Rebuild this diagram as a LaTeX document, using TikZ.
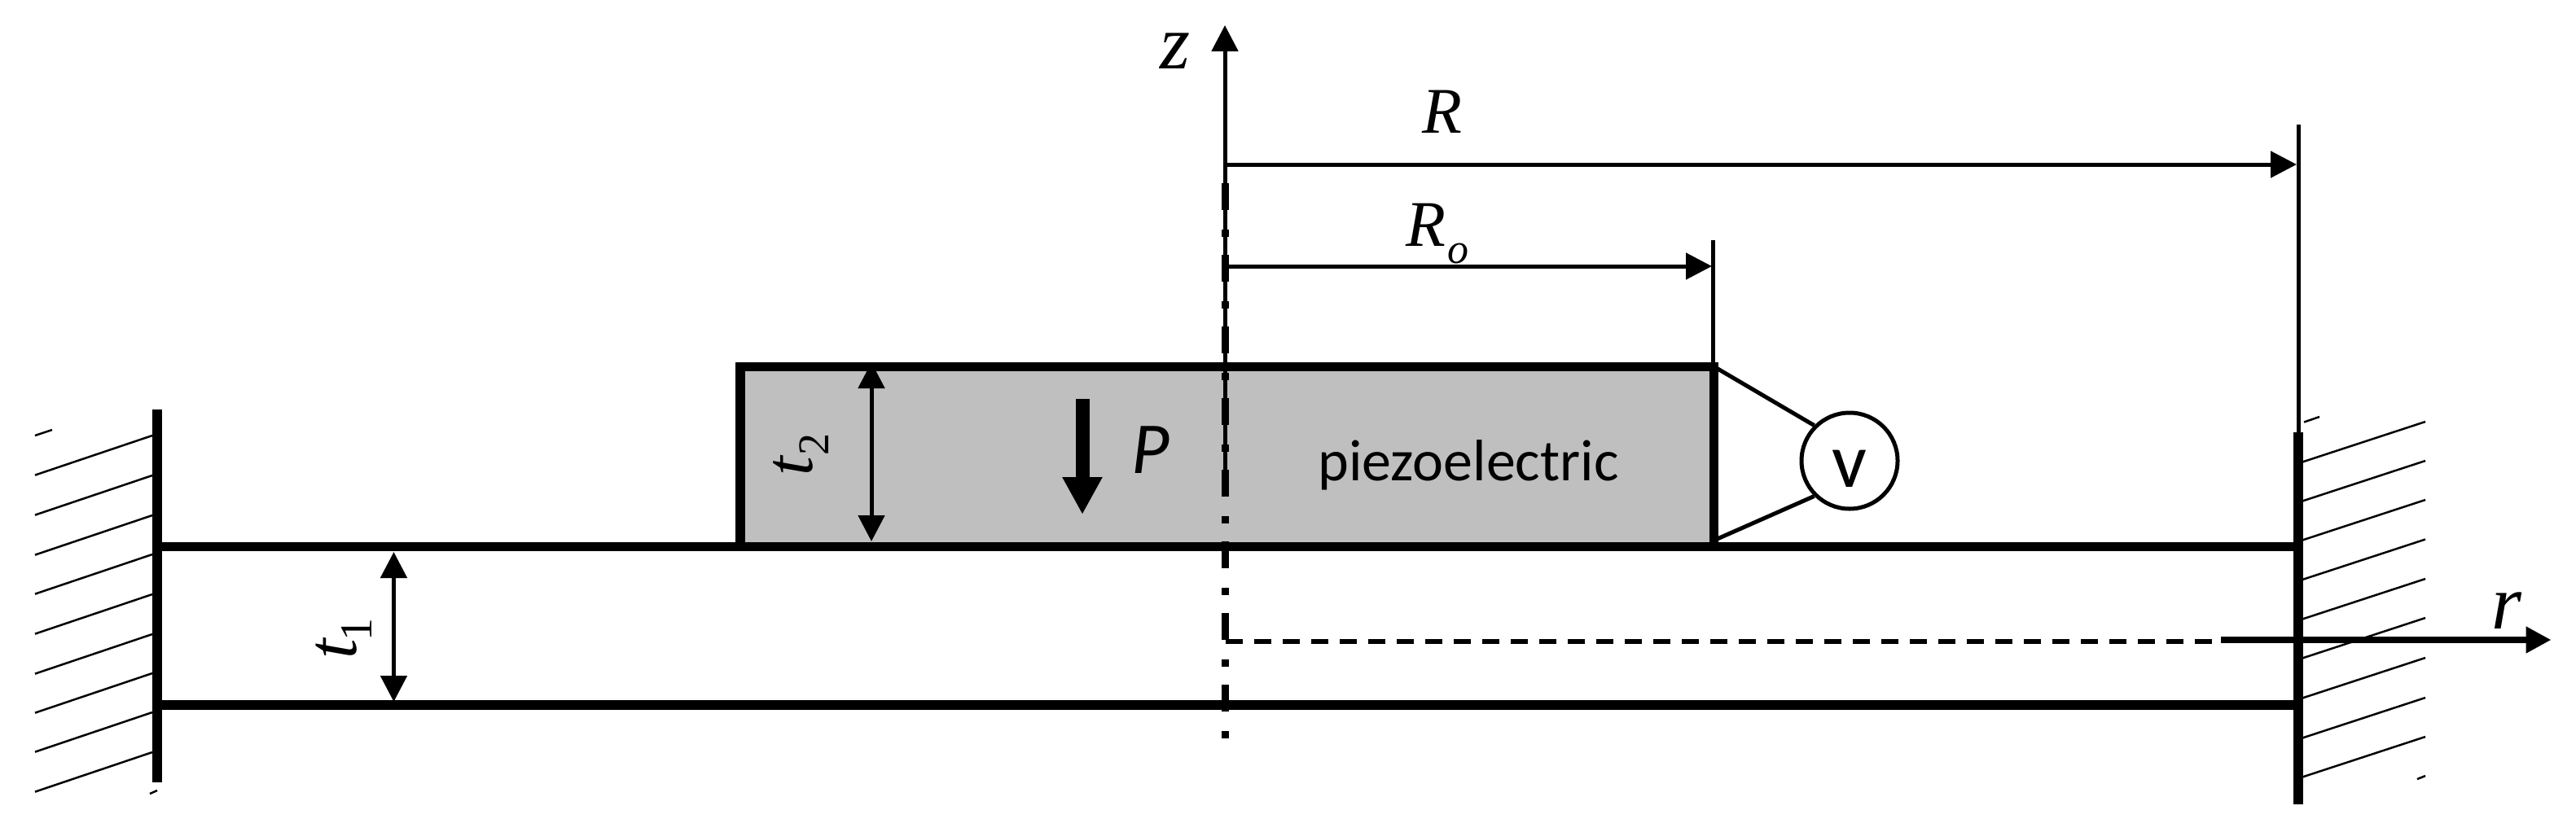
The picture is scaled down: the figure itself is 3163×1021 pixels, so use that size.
\documentclass[tikz,border=0pt]{standalone}
\usepackage{fontspec}
\setmainfont{Liberation Serif}
\newfontfamily\sansf{Carlito}
\usetikzlibrary{arrows.meta}
\tikzset{
  px/.style={x=1pt,y=-1pt},
  thick line/.style={line width=11.5pt,line cap=butt},
  thin line/.style={line width=5pt},
  hatch/.style={line width=2.5pt},
  dim tip/.style={-{Triangle[length=32pt,width=32pt]}},
  dim both/.style={{Triangle[length=32pt,width=32pt]}-{Triangle[length=32pt,width=32pt]}},
  lab/.style={inner sep=0pt,font=\fontsize{90}{90}\selectfont\itshape},
  sans/.style={inner sep=0pt,font=\fontsize{72}{72}\selectfont\sansf},
}
\begin{document}
\begin{tikzpicture}[px]
\useasboundingbox[fill=white] (0,0) rectangle (3163,1021);
% coordinates
\coordinate (zbot) at (1504,907);
\coordinate (ztop) at (1504,31);
\coordinate (zstart) at (1504,610);
\coordinate (Rs) at (1504,202);
\coordinate (Re) at (2820,202);
\coordinate (Ros) at (1504,327);
\coordinate (Roe) at (2102,327);
\coordinate (Rotick) at (2103,295);
\coordinate (Rotickb) at (2103,447);
\coordinate (Rtick) at (2822,153);
\coordinate (Rtickb) at (2822,531);
% piezo
\fill[fill=black!25] (909,450.5) rectangle (2104,671.5);
\draw[line width=11pt] (903,450.5) -- (2109,450.5);
\draw[line width=12pt] (909,445) -- (909,671.5);
\draw[line width=11pt] (2104,445) -- (2104,671.5);
% beams
\coordinate (bl1) at (193,671.5);\coordinate (br1) at (2822,671.5);
\coordinate (bl2) at (193,866);\coordinate (br2) at (2822,866);
\draw[thick line] (bl1) -- (br1);
\draw[thick line] (bl2) -- (br2);
% walls
\draw[line width=12pt] (193,503) -- (193,961);
\draw[line width=12pt] (2822,531) -- (2822,988);
% hatching left
\foreach \y in {535,584,633,681,730,779,827,875,924}
  \draw[hatch] (187,\y) -- (43,\y+48.6);
\draw[hatch] (43,535) -- (64,528);
\draw[hatch] (184,975) -- (193,971);
% hatching right
\foreach \y in {518,566,614,662.5,711,759,808,857,905}
  \draw[hatch] (2978,\y) -- (2827,\y+49.5);
\draw[hatch] (2829,518.5) -- (2848,512);
\draw[hatch] (2968,957) -- (2978,953);
% axes
\draw[thin line,-{Triangle[length=32pt,width=32pt]}] (zstart) -- (ztop);
\draw[line width=9pt,dash pattern=on 33pt off 24pt on 9pt off 22pt] (1504,225) -- (zbot);
\draw[thin line,dim tip] (Rs) -- (Re);
\draw[thin line,dim tip] (Ros) -- (Roe);
\draw[thin line] (Rotick) -- (Rotickb);
\draw[thin line] (Rtick) -- (Rtickb);
\draw[line width=6pt,dash pattern=on 21pt off 14pt] (1505,788) -- (2727,788);
\draw[line width=8pt,-{Triangle[length=31pt,width=31pt]}] (2727,786) -- (3132.5,786);
% thickness dims
\draw[thin line,dim both] (483.5,678) -- (483.5,862);
\draw[thin line,dim both] (1070,445) -- (1070,665);
% polarization arrow
\draw[line width=17pt,-{Triangle[length=46pt,width=46pt]}] (1329,490) -- (1329,632);
% voltmeter
\node[circle,draw,line width=5pt,minimum size=118pt,inner sep=0pt] (vm) at (2271,566) {};
\node[sans,anchor=base,font=\fontsize{95}{95}\selectfont\sansf] (vl) at (2271,598) {v};
\coordinate (pt) at (2104,450);
\coordinate (pb) at (2104,664);
\draw[thin line] (pt) -- (vm.135);
\draw[thin line] (pb) -- (vm.225);
% labels
\node[lab,anchor=base,font=\fontsize{95}{95}\selectfont\itshape] (lz) at (1443,84) {z};
\node[lab,anchor=base,font=\fontsize{80}{80}\selectfont\itshape] (lR) at (1771,163) {R};
\node[lab,anchor=base west,font=\fontsize{80}{80}\selectfont\itshape] (lRo) at (1726,302) {R};
\node[lab,anchor=base west,font=\fontsize{52}{52}\selectfont\itshape] (lRos) at (1777,323) {o};
\node[lab,anchor=base,font=\fontsize{95}{95}\selectfont\itshape] (lr) at (3078,772) {r};
\node[lab,anchor=base west,rotate=90,font=\fontsize{88}{88}\selectfont\itshape] (lt1) at (437,810) {t};
\node[lab,anchor=base west,rotate=90,font=\fontsize{56}{56}\selectfont\rmfamily] (lt1s) at (456,788) {1};
\node[lab,anchor=base west,rotate=90,font=\fontsize{85}{85}\selectfont\itshape] (lt2) at (997,585) {t};
\node[lab,anchor=base west,rotate=90,font=\fontsize{54}{54}\selectfont\rmfamily] (lt2s) at (1017,560) {2};
\node[sans,anchor=base west,font=\fontsize{90}{90}\selectfont\sansf\itshape] (lP) at (1389,581) {P};
\node[sans,anchor=base] (lpz) at (1803,590) {piezoelectric};
\end{tikzpicture}
\end{document}
